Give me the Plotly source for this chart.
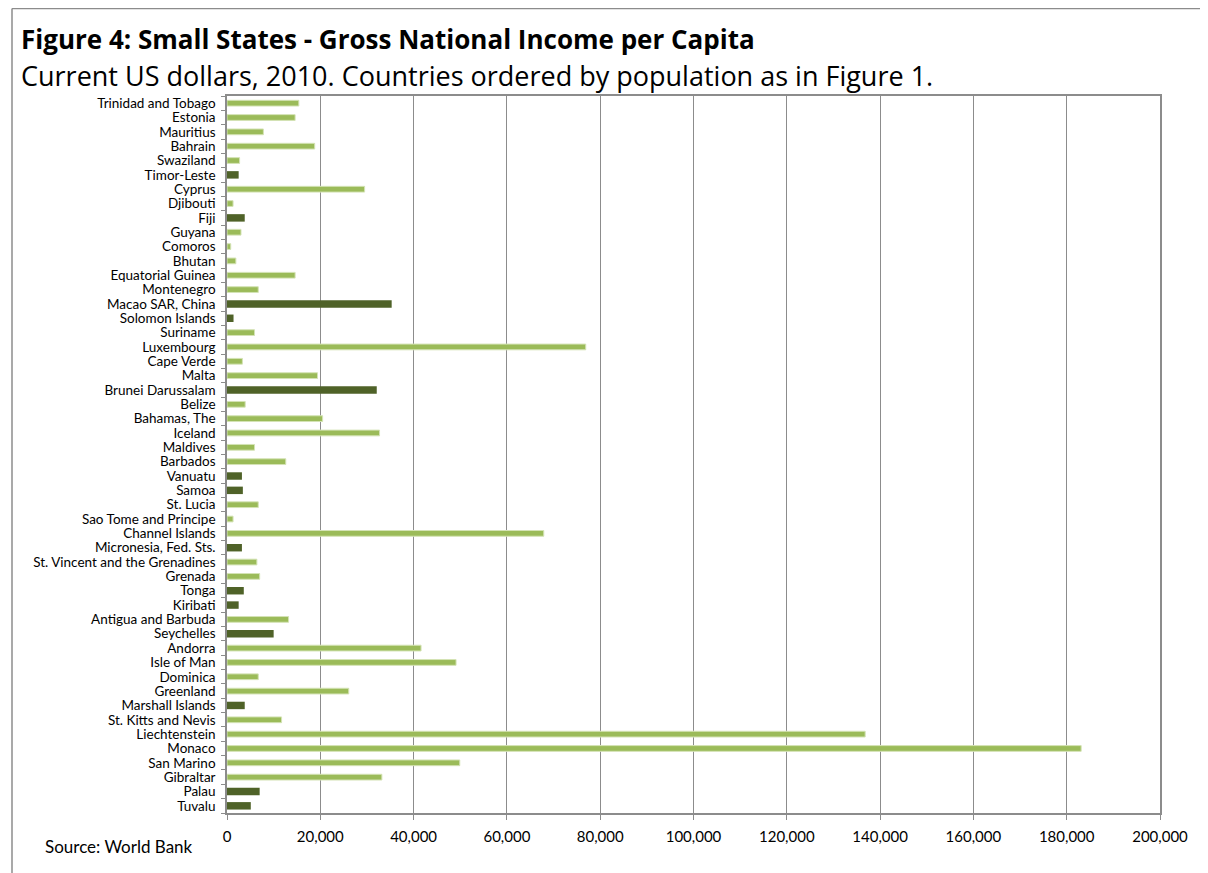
import plotly.graph_objects as go

countries = [
    "Trinidad and Tobago", "Estonia", "Mauritius", "Bahrain", "Swaziland", "Timor-Leste",
    "Cyprus", "Djibouti", "Fiji", "Guyana", "Comoros", "Bhutan", "Equatorial Guinea",
    "Montenegro", "Macao SAR, China", "Solomon Islands", "Suriname", "Luxembourg",
    "Cape Verde", "Malta", "Brunei Darussalam", "Belize", "Bahamas, The", "Iceland",
    "Maldives", "Barbados", "Vanuatu", "Samoa", "St. Lucia", "Sao Tome and Principe",
    "Channel Islands", "Micronesia, Fed. Sts.", "St. Vincent and the Grenadines", "Grenada",
    "Tonga", "Kiribati", "Antigua and Barbuda", "Seychelles", "Andorra", "Isle of Man",
    "Dominica", "Greenland", "Marshall Islands", "St. Kitts and Nevis", "Liechtenstein",
    "Monaco", "San Marino", "Gibraltar", "Palau", "Tuvalu",
]

gni_per_capita = [
    15400, 14600, 7800, 18800, 2700, 2500,
    29500, 1300, 3800, 3000, 800, 1900, 14600,
    6700, 35300, 1400, 5900, 76900,
    3300, 19400, 32100, 3900, 20500, 32700,
    5900, 12600, 3200, 3400, 6700, 1300,
    67900, 3200, 6400, 7000,
    3600, 2500, 13200, 10000, 41600, 49100,
    6700, 26100, 3800, 11700, 136800,
    183100, 49900, 33200, 7000, 5100,
]

highlighted = [
    "Timor-Leste", "Fiji", "Macao SAR, China", "Solomon Islands", "Brunei Darussalam",
    "Vanuatu", "Samoa", "Micronesia, Fed. Sts.", "Tonga", "Kiribati", "Seychelles",
    "Marshall Islands", "Palau", "Tuvalu",
]

x_ticks = [0, 20000, 40000, 60000, 80000, 100000, 120000, 140000, 160000, 180000, 200000]

light_vals = [None if c in highlighted else v for c, v in zip(countries, gni_per_capita)]
dark_vals = [v if c in highlighted else None for c, v in zip(countries, gni_per_capita)]

FONT = "Lato, Carlito, Calibri, sans-serif"
TFONT = "Open Sans, Lato, sans-serif"

# plot area in figure pixels
L, R, T, B = 219, 56, 88, 68
PW = 1208 - L - R
PH = 873 - T - B

def px_to_paper_x(px):
    return (px - L) / PW

def px_to_paper_y(py):
    return 1 - (py - T) / PH

fig = go.Figure()
fig.add_trace(go.Bar(
    y=countries, x=light_vals, orientation="h", width=0.4,
    marker=dict(color="#9BBB59", line=dict(color="#D4E3B5", width=1)),
    showlegend=False,
))
fig.add_trace(go.Bar(
    y=countries, x=dark_vals, orientation="h", width=0.52,
    marker=dict(color="#4F6228", line=dict(width=0)),
    showlegend=False,
))

fig.update_layout(
    width=1208, height=873,
    barmode="overlay",
    paper_bgcolor="white", plot_bgcolor="white",
    margin=dict(l=L, r=R, t=T, b=B),
    font=dict(family=FONT, color="#000000"),
)

fig.update_xaxes(
    range=[0, 200000], tickvals=x_ticks, tickformat=",",
    showgrid=True, gridcolor="#8C8C8C", gridwidth=1.3,
    showline=True, linecolor="#8C8C8C", linewidth=1.5, mirror=True,
    ticks="outside", ticklen=5, tickcolor="#8C8C8C",
    tickfont=dict(size=15, family=FONT), zeroline=False,
    ticklabelstandoff=4,
)
fig.update_yaxes(
    categoryorder="array", categoryarray=countries, autorange="reversed",
    tickmode="array", tickvals=countries, ticktext=countries,
    showline=True, linecolor="#8C8C8C", linewidth=1.5, mirror=True,
    ticks="outside", ticklen=4, tickcolor="#8C8C8C", tickson="boundaries",
    tickfont=dict(size=13.5, family=FONT), showgrid=False,
    ticklabelstandoff=7,
)

fig.add_annotation(
    text="<b>Figure 4: Small States - Gross National Income per Capita</b>",
    xref="paper", yref="paper", x=px_to_paper_x(11), y=px_to_paper_y(31),
    xanchor="left", yanchor="middle",
    showarrow=False, font=dict(size=26, family=TFONT),
)
fig.add_annotation(
    text="Current US dollars, 2010. Countries ordered by population as in Figure 1.",
    xref="paper", yref="paper", x=px_to_paper_x(11), y=px_to_paper_y(68),
    xanchor="left", yanchor="middle",
    showarrow=False, font=dict(size=27, family=TFONT),
)
fig.add_annotation(
    text="Source: World Bank",
    xref="paper", yref="paper", x=px_to_paper_x(35), y=px_to_paper_y(838),
    xanchor="left", yanchor="middle",
    showarrow=False, font=dict(size=17, family=FONT),
)

# outer frame (left and top edges)
fig.add_shape(type="line", xref="paper", yref="paper",
              x0=px_to_paper_x(4), x1=px_to_paper_x(4), y0=px_to_paper_y(880), y1=px_to_paper_y(0.5),
              line=dict(color="#8C8C8C", width=1.5))
fig.add_shape(type="line", xref="paper", yref="paper",
              x0=px_to_paper_x(4), x1=px_to_paper_x(1210), y0=px_to_paper_y(0.5), y1=px_to_paper_y(0.5),
              line=dict(color="#8C8C8C", width=1.5))

fig.write_html("out.html")
